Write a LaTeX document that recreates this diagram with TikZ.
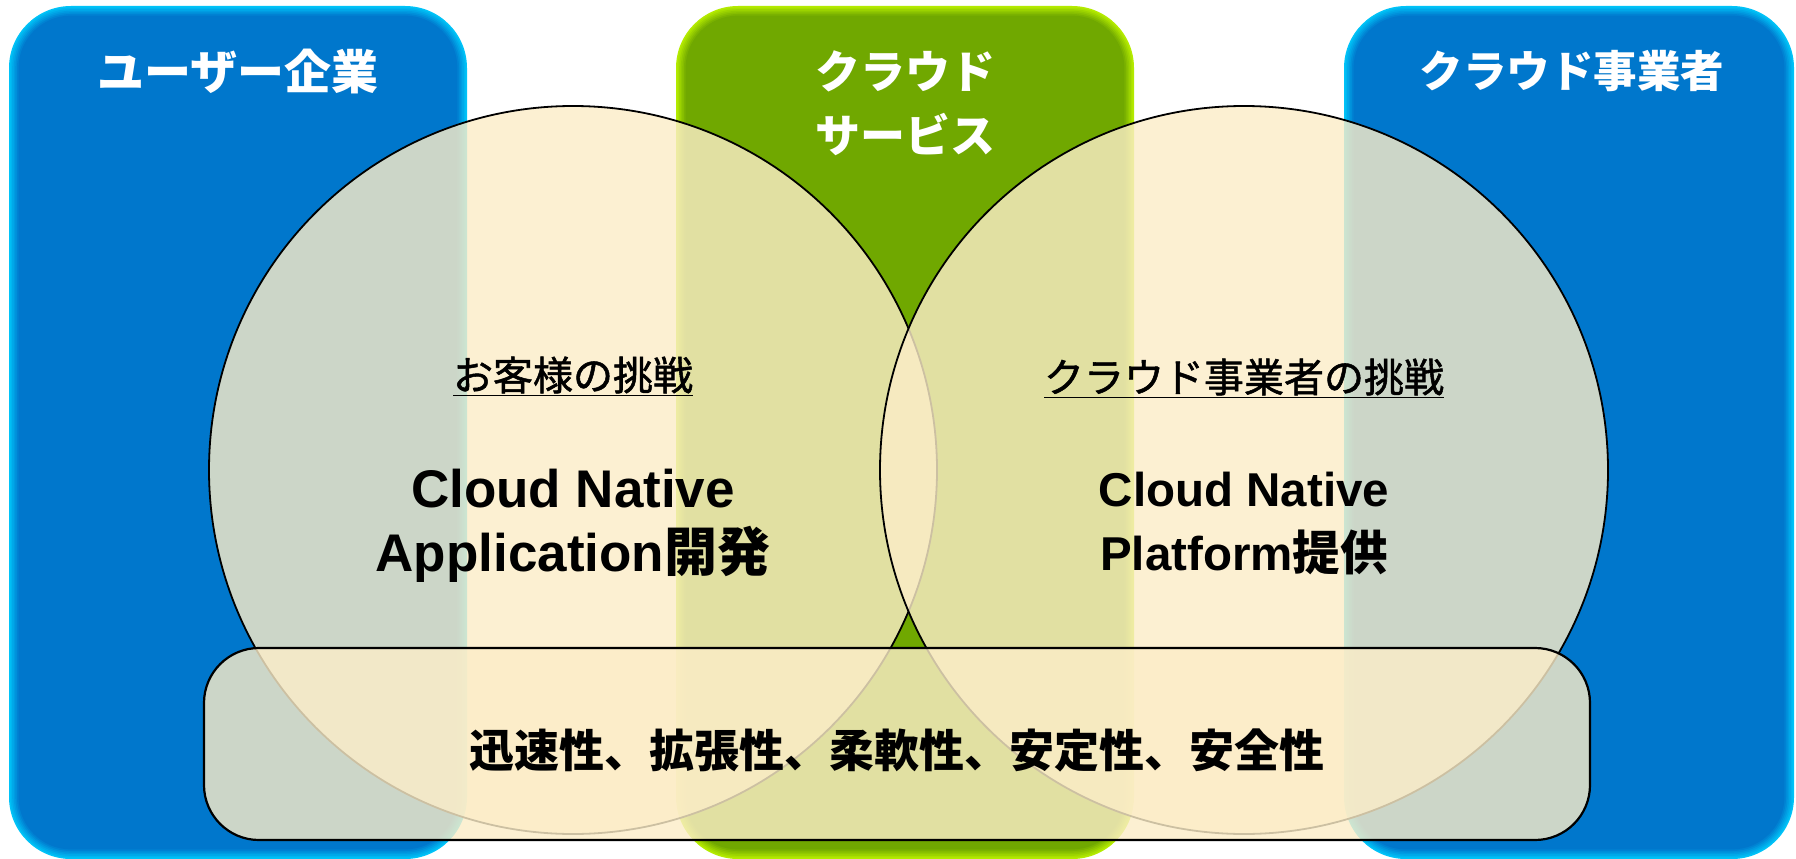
\documentclass[tikz,border=0pt]{standalone}
\usepackage{fontspec}
\setmainfont{Liberation Sans}
\newfontfamily\jp{Noto Sans CJK JP}
\newfontfamily\jpm{Noto Sans CJK JP}[FakeBold=1.3]
\definecolor{bluemain}{RGB}{0,119,204}
\definecolor{bluelight}{RGB}{0,195,248}
\definecolor{greenmain}{RGB}{112,168,0}
\definecolor{greenlight}{RGB}{180,235,0}
\definecolor{cream}{RGB}{252,237,200}
\newcommand{\glowbox}[6]{%
  \foreach \k in {0,...,6}{%
    \pgfmathsetmacro{\ins}{\k*1.6}%
    \pgfmathsetmacro{\rr}{62-\k*1.6}%
    \pgfmathtruncatemacro{\pc}{min(100,\k*17)}%
    \fill[#6!\pc!#5, rounded corners=\rr pt] ({#1+\ins},{#2+\ins}) rectangle ({#3-\ins},{#4-\ins});
  }}
\tikzset{
  title/.style={text=white, font=\jp\bfseries\fontsize{45}{50}\selectfont, inner sep=0pt},
  bubble/.style={circle, draw=black, line width=1.8pt, fill=cream, fill opacity=0.81, minimum size=728pt, inner sep=0pt},
  band/.style={draw=black, line width=2.2pt, fill=cream, fill opacity=0.81, rounded corners=55pt},
  head/.style={font=\jpm\fontsize{40}{44}\selectfont, inner sep=0pt},
  bigL/.style={font=\bfseries\fontsize{53}{58}\selectfont, inner sep=0pt},
  bigR/.style={font=\bfseries\fontsize{47.5}{52}\selectfont, inner sep=0pt},
  qual/.style={font=\jp\bfseries\fontsize{45}{50}\selectfont, inner sep=0pt},
}
\begin{document}
\begin{tikzpicture}[x=1pt,y=-1pt]
\useasboundingbox (0,0) rectangle (1796,859);
\fill[white] (0,0) rectangle (1796,859);
% column boxes
\glowbox{9}{6}{467}{859}{bluelight}{bluemain}
\glowbox{676}{6}{1134}{859}{greenlight}{greenmain}
\glowbox{1344}{6}{1794}{859}{bluelight}{bluemain}
% titles
\node[title, font=\jp\bfseries\fontsize{47}{52}\selectfont] (tuser) at (238,71) {ユーザー企業};
\node[title] (tcs1) at (905,71) {クラウド};
\node[title] (tcs2) at (905,134) {サービス};
\node[title, font=\jp\bfseries\fontsize{43.5}{48}\selectfont] (tprov) at (1572,71) {クラウド事業者};
% circles
\node[bubble] (cl) at (573,470) {};
\node[bubble] (cr) at (1244,470) {};
% band
\draw[band] (204,648) rectangle (1590,840);
\coordinate (bandc) at (897,750);
% circle texts
\node[head] (hl) at (573,376) {\underline{お客様の挑戦}};
\node[head] (hr) at (1244,378) {\underline{クラウド事業者の挑戦}};
\node[bigL] (l1) at (573,489) {Cloud Native};
\node[bigL] (l2) at (573,554) {Application{\jp 開発}};
\node[bigR] (r1) at (1244,490) {Cloud Native};
\node[bigR] (r2) at (1244,552) {Platform{\jp 提供}};
\node[qual] (q) at (bandc) {迅速性、拡張性、柔軟性、安定性、安全性};
\end{tikzpicture}
\end{document}
